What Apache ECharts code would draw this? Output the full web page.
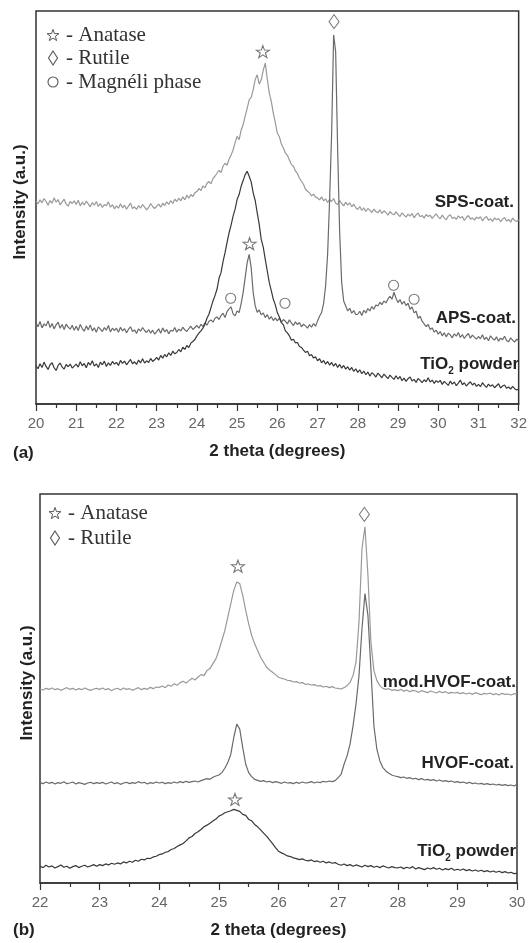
<!DOCTYPE html>
<html><head><meta charset="utf-8">
<script src="https://cdn.jsdelivr.net/npm/echarts@6/dist/echarts.min.js"></script>
<style>html,body{margin:0;padding:0;background:#fff}#c{width:530px;height:943px}</style>
</head><body><div id="c"></div>
<script>
// ---------- Panel (a): 2theta 20..32, step 0.05 ----------
const thetaStartA = 20, thetaStepA = 0.05;
const spsA = [
61.0,60.2,61.4,60.5,61.8,60.9,59.8,61.2,60.4,62.0,60.7,61.5,59.9,60.8,61.6,60.1,59.5,60.9,60.3,61.1,
60.0,61.3,59.6,60.7,59.9,61.0,60.2,59.3,60.6,59.8,60.9,59.4,60.3,59.1,60.0,59.6,60.8,59.2,59.9,58.7,
59.6,58.9,60.2,59.0,59.8,58.6,59.5,60.4,58.8,59.3,58.5,59.7,58.9,60.0,59.2,58.4,59.1,60.3,59.4,58.8,
59.5,60.1,59.2,60.4,59.7,60.8,60.0,61.2,60.3,61.6,60.9,61.9,61.1,62.3,61.4,62.8,61.9,63.0,62.4,63.5,
63.9,64.8,64.2,65.6,65.0,66.4,66.9,66.2,67.8,68.5,69.4,70.3,69.6,71.5,72.4,71.8,73.6,74.9,76.4,78.6,
80.5,79.5,82.4,84.0,86.5,88.9,91.5,92.2,94.5,97.6,99.0,96.2,97.5,100.4,102.5,97.8,93.5,91.0,87.5,84.6,
81.5,80.4,78.2,77.0,75.5,74.8,73.4,72.0,71.5,70.1,69.3,67.9,67.0,66.1,64.6,64.0,63.5,62.6,63.1,62.2,
62.0,61.4,62.3,61.1,61.7,60.6,61.5,60.9,61.8,60.4,60.0,61.2,60.3,59.6,60.7,59.8,60.5,59.3,60.1,59.0,
58.5,59.4,58.2,59.0,57.9,58.8,58.3,57.6,58.6,57.9,57.5,58.4,57.3,58.1,57.6,56.8,57.9,57.2,56.9,57.8,
57.0,56.4,57.5,56.8,56.2,57.1,56.5,57.3,56.0,56.9,57.4,56.3,56.7,55.9,57.0,56.4,56.8,55.8,56.6,57.2,
56.3,55.7,56.8,56.0,55.4,56.5,56.9,55.8,56.2,55.5,56.6,55.9,56.4,55.2,56.1,56.7,55.6,56.0,55.3,56.2,
55.8,56.3,55.1,55.9,56.4,55.3,55.7,54.9,56.0,55.4,55.8,54.8,55.6,56.1,55.0,55.5,54.7,55.9,55.2,54.9,
55.4];
const apsA = [
24.5,23.2,24.8,22.9,24.1,23.5,25.0,23.0,24.2,22.6,23.8,24.6,22.8,23.9,22.4,24.0,23.1,22.5,23.7,22.2,
23.4,22.1,23.9,22.7,21.9,23.5,22.3,23.8,22.0,22.9,21.6,23.2,22.5,21.8,23.0,22.2,23.6,21.7,22.8,22.1,
22.8,21.6,23.1,22.0,22.7,21.4,22.5,23.2,21.8,22.3,21.2,22.6,21.9,23.0,22.1,21.5,22.4,21.3,22.2,21.0,
21.8,22.6,21.3,22.9,21.7,22.4,21.1,22.2,21.9,23.0,21.6,22.5,22.0,23.1,22.3,21.8,22.7,23.4,22.4,23.0,
23.6,22.8,24.0,23.3,24.4,23.7,24.9,25.3,24.6,25.8,26.2,25.4,26.6,27.3,26.0,27.8,28.6,29.2,27.1,26.5,
28.0,27.5,30.2,33.5,38.0,42.5,45.0,41.0,33.5,29.5,27.6,28.3,26.8,27.4,26.0,26.9,25.5,26.3,25.1,25.9,
25.0,25.8,24.6,25.4,24.9,24.1,25.3,24.4,23.6,24.7,23.9,24.5,23.2,24.0,23.5,22.8,23.9,23.1,24.2,23.4,
25.0,26.4,27.5,30.2,35.5,45.0,61.5,81.5,111.0,106.0,76.5,51.5,36.5,31.0,29.5,28.0,28.8,27.3,28.1,26.9,
27.0,27.9,26.6,28.2,27.4,28.7,28.0,29.3,28.5,29.8,29.5,30.6,29.9,31.0,30.4,31.6,32.4,31.5,33.6,31.8,
30.5,31.4,30.0,30.9,29.6,30.3,28.5,29.2,27.4,27.9,25.8,26.4,24.9,24.1,23.3,23.9,22.4,22.9,21.6,22.2,
21.0,21.8,20.5,21.4,20.2,21.3,20.8,19.9,21.1,20.4,21.5,20.0,20.9,19.7,20.6,21.2,19.8,20.7,20.1,19.5,
20.3,19.6,20.8,19.4,20.1,19.0,20.5,19.7,19.2,20.2,18.9,19.8,19.3,20.4,19.1,18.7,19.9,19.2,18.6,19.5,
19.0];
const tio2A = [
11.5,10.6,12.1,11.0,12.6,11.3,10.4,11.8,12.4,10.9,10.1,11.6,12.3,11.1,10.5,11.9,11.2,12.0,10.8,11.4,
12.0,11.1,12.7,11.5,12.2,10.9,12.5,11.7,13.0,11.4,12.1,11.0,12.6,11.8,12.9,11.3,12.4,11.6,12.8,12.0,
12.5,11.6,13.1,12.2,12.9,11.8,12.6,13.4,12.1,12.7,11.9,13.2,12.4,13.6,12.3,13.0,12.5,13.7,12.8,13.3,
14.0,13.2,14.6,13.8,14.9,14.2,15.4,14.6,15.9,15.1,15.5,16.4,15.7,17.1,16.4,17.6,17.0,18.3,18.8,19.4,
20.5,21.3,22.0,22.8,24.0,25.8,27.0,29.0,31.0,32.6,34.5,37.8,39.5,42.8,45.5,48.6,51.5,53.8,56.5,58.6,
61.5,63.0,65.5,67.2,69.0,70.0,68.5,66.8,63.5,61.2,57.5,54.0,49.5,47.2,43.5,40.0,36.5,34.1,31.5,29.8,
27.5,26.2,24.5,23.8,22.0,21.4,20.5,19.2,19.5,18.4,18.5,17.3,17.0,16.2,15.5,15.9,14.5,14.9,13.8,14.2,
13.0,13.6,12.4,13.1,12.0,12.8,11.7,12.5,11.4,12.2,11.0,11.9,10.8,11.6,10.5,11.2,10.2,11.0,9.8,10.6,
9.5,10.3,9.1,9.9,8.8,9.6,8.4,9.4,8.9,8.1,9.3,8.6,7.9,9.0,8.3,7.6,8.7,8.0,7.4,8.5,
7.5,8.3,7.0,7.8,6.8,7.6,8.1,6.9,7.4,6.5,7.7,7.1,6.4,7.3,6.7,7.9,6.6,7.2,6.2,7.0,
6.5,7.1,5.9,6.8,6.2,5.6,6.9,6.0,6.6,5.5,6.3,7.2,5.8,6.4,5.4,6.1,6.7,5.7,6.3,5.3,
5.9,5.2,6.4,5.6,5.0,6.0,5.3,5.8,4.9,5.5,6.1,4.8,5.4,5.7,4.7,5.1,4.5,5.3,4.6,4.2,
4.5];
const anataseA = [[25.64, 106.0], [25.31, 48.2]];
const rutileA = [[27.41, 115.0]];
const magneliA = [[24.84, 31.8], [26.19, 30.3], [28.89, 35.7], [29.40, 31.5]];

// ---------- Panel (b): 2theta 22..30, step 0.05 ----------
const thetaStartB = 22, thetaStepB = 0.05;
const modHvofB = [
58.0,57.7,58.2,57.9,58.3,57.8,58.1,57.6,58.0,58.4,57.9,58.2,57.7,58.1,57.8,58.3,57.9,57.6,58.0,58.2,
57.9,58.3,57.8,58.1,57.5,58.0,58.2,57.7,58.3,57.9,58.1,57.6,58.0,58.4,57.8,58.2,57.9,58.5,58.1,58.6,
58.5,58.9,58.4,59.2,58.8,59.6,59.1,59.9,60.3,59.8,60.5,61.2,60.7,61.6,62.3,62.0,63.5,64.1,65.6,67.0,
69.5,72.5,75.5,79.5,83.5,87.5,90.0,89.5,86.0,81.5,77.5,74.0,71.5,69.5,67.5,66.0,64.5,63.7,63.0,62.3,
61.5,61.2,61.0,60.6,60.5,60.1,60.2,59.8,59.9,59.4,59.5,59.2,59.3,58.9,59.0,58.6,58.8,58.4,58.7,58.3,
58.2,58.0,58.4,59.0,60.0,62.0,66.0,78.0,100.0,106.5,92.0,72.0,63.5,60.5,59.0,58.2,57.9,58.1,57.6,57.8,
57.5,57.9,57.3,57.7,57.2,57.6,57.4,57.0,57.5,57.2,56.9,57.4,57.1,56.8,57.3,56.9,57.2,56.7,57.0,56.8,
57.0,56.6,56.9,56.5,56.8,56.4,56.9,56.6,56.3,56.7,56.5,56.8,56.3,56.6,56.2,56.7,56.4,56.5,56.2,56.6,
56.5];
const hvofB = [
30.0,29.7,30.2,29.8,30.1,29.6,30.0,29.8,30.3,29.7,29.9,30.2,29.6,30.0,29.8,29.5,29.9,30.1,29.7,30.0,
29.8,30.1,29.6,29.9,30.2,29.7,30.0,29.5,29.9,30.1,29.7,30.0,29.8,30.3,29.9,30.1,29.6,30.0,29.8,30.2,
29.9,30.1,29.7,30.0,29.8,30.2,29.9,30.3,30.0,30.4,30.1,30.3,30.5,30.2,30.6,30.9,31.2,31.0,31.6,32.0,
32.3,33.0,34.3,36.0,38.5,43.5,47.5,46.0,40.5,35.5,33.0,31.8,31.0,30.7,30.4,30.6,30.2,30.4,30.0,30.3,
30.1,29.8,30.2,29.9,30.0,29.7,30.1,29.8,30.2,29.9,30.0,30.3,29.9,30.2,30.0,30.4,30.2,30.5,30.3,30.6,
31.5,32.5,35.5,38.0,41.5,47.0,53.5,62.0,76.0,86.5,80.0,64.0,47.0,40.0,36.5,34.5,33.5,32.8,32.3,32.0,
31.8,31.5,31.7,31.3,31.5,31.1,31.3,30.9,31.2,30.8,31.0,30.7,30.9,30.5,30.8,30.4,30.6,30.3,30.5,30.1,
30.3,30.0,30.2,29.8,30.1,29.7,29.9,29.6,29.8,29.5,29.7,29.4,29.6,29.3,29.5,29.2,29.4,29.1,29.3,29.0,
29.5];
const tio2B = [
5.0,4.6,5.3,4.8,5.1,4.5,4.9,5.4,4.7,5.0,4.4,4.9,5.2,4.6,5.0,5.3,4.8,5.1,5.5,5.0,
5.5,5.2,5.7,5.4,5.9,5.6,6.0,5.7,6.3,6.0,6.5,6.2,6.8,6.5,7.1,6.9,7.4,7.3,7.8,8.0,
8.5,8.7,9.2,9.4,10.0,10.3,10.9,11.4,11.8,12.6,13.5,13.9,14.8,15.3,16.0,16.8,17.3,17.9,18.5,19.1,
20.0,20.4,21.0,21.3,21.6,22.0,21.7,21.4,20.5,20.2,19.0,18.6,17.5,16.8,15.9,14.9,14.0,12.9,11.8,10.6,
9.5,9.0,8.6,8.1,7.9,7.5,7.3,7.0,7.2,6.8,6.6,6.9,6.4,6.6,6.2,6.5,6.0,6.3,5.9,6.1,
5.6,5.3,5.7,5.2,5.5,5.0,5.4,5.1,4.8,5.3,4.9,5.2,4.7,5.0,4.6,5.1,4.8,4.5,4.9,4.6,
4.5,4.8,4.3,4.7,4.4,4.9,4.2,4.6,4.3,4.0,4.5,4.2,4.6,4.1,4.4,3.9,4.3,4.0,4.4,3.8,
4.1,3.8,4.2,3.7,4.0,3.6,3.9,3.5,3.8,3.4,3.7,3.3,3.6,3.2,3.5,3.1,3.4,3.0,3.2,2.8,
2.9];
const anataseB = [[25.32, 94.7], [25.27, 25.0]];
const rutileB = [[27.44, 110.2]];

const xTicksA = {min: 20, max: 32, interval: 1};
const xTicksB = {min: 22, max: 30, interval: 1};

// ---------- build ----------
function pairs(start, step, ys) {
  return ys.map((v, i) => [+(start + i * step).toFixed(2), v]);
}
const STAR = 'path://M0,-10L2.35,-3.24L9.51,-3.09L3.8,1.24L5.88,8.09L0,4L-5.88,8.09L-3.8,1.24L-9.51,-3.09L-2.35,-3.24Z';
const STAR_PTS = [[0,-10],[2.35,-3.24],[9.51,-3.09],[3.8,1.24],[5.88,8.09],[0,4],[-5.88,8.09],[-3.8,1.24],[-9.51,-3.09],[-2.35,-3.24]];
const markStyle = {color: 'rgba(255,255,255,0)', borderColor: '#555', borderWidth: 1.1};
const sans = '"Liberation Sans", Arial, sans-serif';
const serif = '"Liberation Serif", "Times New Roman", serif';

function line(name, xi, yi, data, color, w) {
  return {name, type: 'line', xAxisIndex: xi, yAxisIndex: yi, data, showSymbol: false,
    symbol: 'none', lineStyle: {color, width: w || 1.2}, z: 2, animation: false};
}
function marks(xi, yi, data, symbol, size) {
  return {type: 'scatter', xAxisIndex: xi, yAxisIndex: yi, data, symbol, symbolSize: size,
    itemStyle: markStyle, z: 5, animation: false};
}
function xAxis(gi, t) {
  return {type: 'value', gridIndex: gi, min: t.min, max: t.max, interval: t.interval,
    name: '2 theta (degrees)', nameLocation: 'middle', nameGap: 39,
    nameTextStyle: {fontFamily: sans, fontWeight: 'bold', fontSize: 17, color: '#222'},
    axisLine: {show: true, onZero: false, lineStyle: {color: '#333', width: 1.5}},
    axisTick: {show: true, inside: false, length: 7, lineStyle: {color: '#333', width: 1.2}},
    minorTick: {show: true, splitNumber: 2, length: 4, lineStyle: {color: '#333', width: 1.2}},
    axisLabel: {fontFamily: sans, fontSize: 15, color: '#666', margin: 12},
    splitLine: {show: false}};
}
function yAxis(gi, max) {
  return {type: 'value', gridIndex: gi, min: 0, max,
    axisLine: {show: false}, axisTick: {show: false}, axisLabel: {show: false}, splitLine: {show: false}};
}
function yTitle(x, y) {
  return {type: 'text', x, y, rotation: Math.PI / 2, z: 10,
    style: {text: 'Intensity (a.u.)', fontFamily: sans, fontWeight: 'bold', fontSize: 17, fill: '#222', align: 'center', verticalAlign: 'middle'}};
}
function label(text, right, y, sub) {
  if (sub) {
    return {type: 'text', x: right, y, z: 10,
      style: {text: '{a|TiO}{s|2}{a| powder}', align: 'right', verticalAlign: 'middle', fill: '#222',
        rich: {a: {fontFamily: sans, fontWeight: 'bold', fontSize: 17, lineHeight: 24, fill: '#222'},
               s: {fontFamily: sans, fontWeight: 'bold', fontSize: 10, lineHeight: 10, verticalAlign: 'bottom', fill: '#222'}}}};
  }
  return {type: 'text', x: right, y, z: 10,
    style: {text, fontFamily: sans, fontWeight: 'bold', fontSize: 17, fill: '#222', align: 'right', verticalAlign: 'middle'}};
}
function legendRow(kind, cx, cy, text) {
  let sym;
  if (kind === 'star') sym = {type: 'polygon', shape: {points: STAR_PTS.map(p => [cx + p[0] * 0.62, cy + p[1] * 0.62 + 0.6])}, style: {fill: 'none', stroke: '#555', lineWidth: 1}};
  else if (kind === 'diamond') sym = {type: 'polygon', shape: {points: [[cx, cy - 7], [cx + 4.5, cy], [cx, cy + 7], [cx - 4.5, cy]]}, style: {fill: 'none', stroke: '#555', lineWidth: 1.1}};
  else sym = {type: 'circle', shape: {cx, cy, r: 5}, style: {fill: 'none', stroke: '#555', lineWidth: 1.1}};
  return [sym, {type: 'text', x: cx + 13, y: cy, style: {text: '- ' + text, fontFamily: serif, fontSize: 21, fill: '#333', verticalAlign: 'middle'}}];
}

const chart = echarts.init(document.getElementById('c'), null, {renderer: 'canvas'});
chart.setOption({
  backgroundColor: '#fff',
  animation: false,
  grid: [
    {left: 36, right: 10, top: 11, height: 393, show: true, borderColor: '#333', borderWidth: 1.5, backgroundColor: 'transparent'},
    {left: 40, right: 13, top: 494, height: 389, show: true, borderColor: '#333', borderWidth: 1.5, backgroundColor: 'transparent'}
  ],
  xAxis: [xAxis(0, xTicksA), xAxis(1, xTicksB)],
  yAxis: [yAxis(0, 118.2), yAxis(1, 116.3)],
  series: [
    line('SPS-coat.', 0, 0, pairs(thetaStartA, thetaStepA, spsA), '#999999'),
    line('APS-coat.', 0, 0, pairs(thetaStartA, thetaStepA, apsA), '#6a6a6a'),
    line('TiO2 powder', 0, 0, pairs(thetaStartA, thetaStepA, tio2A), '#383838'),
    marks(0, 0, anataseA, STAR, [13, 12]),
    marks(0, 0, rutileA, 'diamond', [10, 14]),
    marks(0, 0, magneliA, 'circle', 10),
    line('mod.HVOF-coat.', 1, 1, pairs(thetaStartB, thetaStepB, modHvofB), '#999999'),
    line('HVOF-coat.', 1, 1, pairs(thetaStartB, thetaStepB, hvofB), '#6a6a6a'),
    line('TiO2 powder', 1, 1, pairs(thetaStartB, thetaStepB, tio2B), '#383838'),
    marks(1, 1, anataseB, STAR, [13, 12]),
    marks(1, 1, rutileB, 'diamond', [10, 14])
  ],
  graphic: [
    ...legendRow('star', 53, 35, 'Anatase'),
    ...legendRow('diamond', 53, 58, 'Rutile'),
    ...legendRow('circle', 53, 82, 'Magnéli phase'),
    ...legendRow('star', 55, 513, 'Anatase'),
    ...legendRow('diamond', 55, 538, 'Rutile'),
    label('SPS-coat.', 514, 202),
    label('APS-coat.', 516, 318),
    label('TiO2 powder', 519, 364, true),
    label('mod.HVOF-coat.', 516, 682),
    label('HVOF-coat.', 514, 763),
    label('TiO2 powder', 516, 851, true),
    yTitle(20, 202),
    yTitle(27, 683),
    {type: 'text', x: 13, y: 453, style: {text: '(a)', fontFamily: sans, fontWeight: 'bold', fontSize: 17, fill: '#222', verticalAlign: 'middle'}},
    {type: 'text', x: 13, y: 930, style: {text: '(b)', fontFamily: sans, fontWeight: 'bold', fontSize: 17, fill: '#222', verticalAlign: 'middle'}}
  ]
});
</script></body></html>
